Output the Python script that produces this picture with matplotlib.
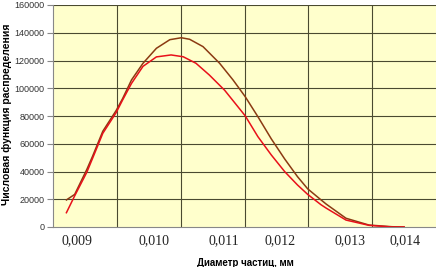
import matplotlib

matplotlib.use("Agg")

import matplotlib.pyplot as plt

# x positions are in units of the vertical grid cells (0..6), as the
# tick labels in the original are not aligned to a linear diameter scale
x_red = [0.21, 0.34, 0.53, 0.62, 0.78, 0.99, 1.09, 1.23, 1.41, 1.62, 1.85,
         2.04, 2.24, 2.45, 2.69, 3.01, 3.21, 3.42, 3.63, 3.83, 3.99, 4.20,
         4.28, 4.59, 4.95, 5.31, 5.5]
y_red = [10300, 22500, 39500, 49500, 67500, 82500, 91500, 103500, 115800,
         122600, 124000, 122700, 118000, 109500, 98500, 80200, 65100, 51900,
         39900, 30300, 23500, 16000, 13600, 5000, 1200, 0, 0]

x_brown = [0.21, 0.34, 0.53, 0.62, 0.78, 0.99, 1.09, 1.23, 1.41, 1.62, 1.83,
           2.01, 2.14, 2.35, 2.61, 2.82, 3.01, 3.21, 3.42, 3.63, 3.83, 3.99,
           4.20, 4.28, 4.59, 4.95, 5.31, 5.5]
y_brown = [19500, 23500, 41500, 51000, 69000, 84000, 92500, 106000, 118000,
           128800, 135000, 136400, 135300, 130000, 118000, 106000, 94000,
           79500, 63500, 49000, 36300, 27500, 19500, 16500, 6300, 1400, 200, 0]

tick_pos = [0.38, 1.58, 2.67, 3.56, 4.65, 5.51]
tick_labels = ["0,009", "0,010", "0,011", "0,012", "0,013", "0,014"]
y_ticks = [0, 20000, 40000, 60000, 80000, 100000, 120000, 140000, 160000]

fig = plt.figure(figsize=(4.36, 2.67), dpi=100)
ax = fig.add_axes([53 / 436, 40 / 267, 383 / 436, 222 / 267])
ax.set_facecolor("#FFFFCC")

grid_color = "#4a4a30"
for gx in range(1, 6):
    ax.axvline(gx, color=grid_color, lw=0.8, zorder=1)
for gy in y_ticks[1:]:
    ax.axhline(gy, color=grid_color, lw=0.8, zorder=1)

ax.plot(x_brown, y_brown, color="#8B3A12", lw=1.1, zorder=3)
ax.plot(x_red, y_red, color="#E8101A", lw=1.1, zorder=4)

ax.set_xlim(0, 6)
ax.set_ylim(0, 160000)
ax.set_yticks(y_ticks)
ax.set_yticklabels([str(v) for v in y_ticks], fontsize=6.5,
                   family="Liberation Sans", color="#333333")
ax.tick_params(axis="y", length=4, width=0.8, color="#888888", pad=2)
ax.set_xticks(tick_pos)
ax.set_xticklabels(tick_labels, fontsize=10, family="Liberation Serif",
                   color="#222222")
ax.tick_params(axis="x", length=0, pad=5)

for side in ("top", "right"):
    ax.spines[side].set_visible(False)
ax.spines["left"].set_color("#888888")
ax.spines["bottom"].set_color("#888888")
ax.spines["left"].set_linewidth(0.8)
ax.spines["bottom"].set_linewidth(0.8)

fig.text(7 / 436, 1 - 114 / 267, "Числовая функция распределения",
         rotation=90, ha="center", va="center", fontsize=7.5,
         fontweight="bold", family="Liberation Sans")
fig.text(245 / 436, 1 - 262.5 / 267, "Диаметр частиц, мм",
         ha="center", va="center", fontsize=7, fontweight="bold",
         family="Liberation Sans")

fig.savefig("out.png", dpi=100)
